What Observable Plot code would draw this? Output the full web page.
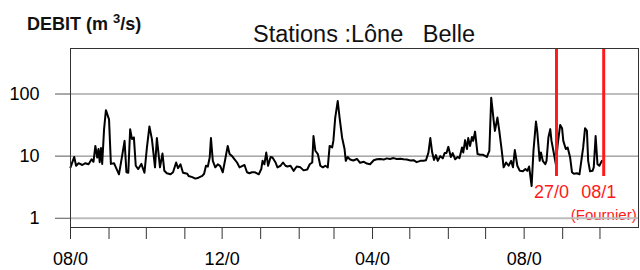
<!DOCTYPE html>
<html>
<head>
<meta charset="utf-8">
<script src="https://cdn.jsdelivr.net/npm/d3@7"></script>
<script src="https://cdn.jsdelivr.net/npm/@observablehq/plot@0.6"></script>
<style>
  html, body { margin: 0; padding: 0; background: white; }
</style>
</head>
<body>
<div id="chart"></div>
<script>
// Days since 1 Aug 2000 and discharge (m3/s)
const days = [0,3,4.5,6.5,9.5,12,14.5,17,18.5,20,21.5,22.5,23.5,24.5,25.5,27,28.5,31,32.5,35,36.5,39,41.5,43.5,45,46.5,48,49.5,51,52.5,54.5,57,59.5,61.5,63.5,65.5,68,69.5,72,74,75.5,77.5,80.5,82.5,85,86.5,88.5,90.5,94,95,98,100.5,103,106,107.5,109,110.5,112,113,114.5,116.5,118.5,120.5,122.5,124.5,126.5,128,130,132,134,136,138,140,142,144,146,148.5,151.5,153.5,154.5,156,157.5,159,161,162.5,165,166.5,169,171,173,174.5,177,179.5,182,185,187.5,190.5,192.5,194.5,195.5,197,199,201,203,205,207,208.5,210.5,211.5,213,215,216.5,218.5,220.5,221.5,223,225,227.5,230.5,233,236,238.5,241,244,246.5,249,252,254.5,257,260,262.5,265.5,268,270.5,273.5,276,278.5,281.5,284,286,288,289.5,291,292.5,294,295.5,297.5,299.5,301,302.5,304,306,307.5,309.5,311.5,313,315,316,317.5,319,320,321.5,323,324,325.5,327.5,329.5,332,335,337,338.5,340.5,341.5,343.5,345,347,348.5,350.5,352.5,354.5,356,357.5,359.5,361.5,364,366,367.5,369,371,372.5,374.5,375.5,377.5,378.5,380,382,383,384.5,386,387,388.5,390.5,392,394,395.5,396.5,398.5,400,402,403.5,405,407.5,409.5,411,412.5,414,415.5,416.5,418,420,421,422.5,424,425.5,427.5];
const flows = [6.6,9.7,7,7.7,7.2,7.7,7.4,8.9,8.1,14.6,9.5,13,8,13.5,7.5,27,55,39,7.5,7.7,6.6,5.1,10,17.6,5.5,5.4,27,18.8,20,7,6.2,7.5,5.4,13.8,30,18.8,6.6,19.5,6.6,11,5.8,5.3,5.1,5.5,7.9,6.4,7.4,5.4,5.2,4.8,4.6,4.35,4.5,4.8,5.2,7,6.8,9.5,19.5,8.4,6.6,7.4,6.9,5.5,8.9,14.6,10.8,10,8.9,7.9,6.6,6.9,7.2,5.5,5.3,5.5,5.5,5.1,6.2,8.4,7.4,11.4,7.0,9.7,9.5,7.9,6.6,7.0,7.9,7.0,6.8,7.0,5.8,6.8,6.6,5.9,6.1,7.4,7.9,21,12.2,10.8,7.0,6.6,7.0,6.6,14.6,13.8,17.6,41.7,77,41.7,20,13,8.4,9.7,8.8,8.5,9.0,7.8,8.1,7.6,7.4,8.6,8.9,9.0,8.8,9.2,9.0,9.3,9.0,9.1,8.9,8.8,8.5,8.6,8.0,8.4,8.4,8.6,11.4,19.5,11.4,8.7,10.4,8.4,10,9.2,11.2,11.2,14.1,9.7,11.2,8.9,9.7,9.3,13.8,11.4,18.1,13,19.5,14.6,20.4,17.6,24.8,10.8,10.5,10.5,9.7,12.2,87,36.9,25.5,41.7,25.5,12.2,6.6,7.9,7.0,8.4,6.6,12.5,7,5.8,5.7,6.2,5.8,6.8,3.3,12.2,36,25.5,8.4,11.4,8.4,7.4,8.4,19.9,27.2,17.6,12.2,7.4,15.6,31.8,28.2,17.6,13,13.8,9.5,5.5,5.2,5.3,5.1,8.4,13.8,28.2,25.5,8.4,5.7,5.8,6.6,21,7.4,7,8.4];

const yTicks = [1, 10, 100];
const xLabelDates = ["2000-08-01", "2000-12-01", "2001-04-01", "2001-08-01"];
const xLabels = ["08/0", "12/0", "04/0", "08/0"];
const eventDates = ["2001-08-27", "2001-10-04"];
const eventLabels = ["27/0", "08/1"];
const eventNote = "(Fournier)";
const title = "Stations :Lône   Belle";

const start = Date.UTC(2000, 7, 1);
const data = days.map((d, i) => ({date: new Date(start + d * 864e5), q: flows[i]}));
const monthTicks = d3.utcMonth.range(new Date(start), new Date(Date.UTC(2001, 10, 1)));
const labelMap = new Map(xLabelDates.map((d, i) => [+new Date(d), xLabels[i]]));
const events = eventDates.map((d, i) => ({date: new Date(d), label: eventLabels[i]}));

const svg = Plot.plot({
  width: 640,
  height: 270,
  marginLeft: 70,
  marginRight: 2,
  marginTop: 48,
  marginBottom: 43,
  style: {fontFamily: "Liberation Sans, Arial, sans-serif", fontSize: "18px", background: "white", overflow: "visible"},
  x: {type: "utc", domain: [new Date(start), new Date(Date.UTC(2001, 10, 1))]},
  y: {type: "log", domain: [0.71, 540]},
  marks: [
    Plot.text([events[1]], {x: "date", text: () => eventNote, frameAnchor: "bottom", dy: -8, lineAnchor: "bottom", fill: "#ff1a1a", fontSize: 15}),
    Plot.ruleY([100, 1], {stroke: "#bdbdbd", strokeWidth: 2}),
    Plot.ruleY([10], {stroke: "#777", strokeWidth: 1}),
    Plot.axisY({ticks: yTicks, tickFormat: d => String(d), tickSize: 15, tickPadding: 16, stroke: "#555", fill: "black", fontSize: 18, label: null}),
    Plot.axisX({ticks: monthTicks, tickSize: 12, tickFormat: () => "", stroke: "#333", label: null}),
    Plot.axisX({ticks: xLabelDates.map(d => new Date(d)), tickSize: 0, tickPadding: 25, tickFormat: d => labelMap.get(+d), fill: "black", fontSize: 18, label: null}),
    Plot.line(data, {x: "date", y: "q", stroke: "black", strokeWidth: 2, strokeLinejoin: "round"}),
    Plot.ruleX(events, {x: "date", y1: 540, y2: 4.7, stroke: "#ff1a1a", strokeWidth: 3}),
    Plot.text(events, {x: "date", text: "label", frameAnchor: "bottom", dy: -30, dx: -5, lineAnchor: "bottom", fill: "#ff1a1a", fontSize: 18}),
    Plot.frame({stroke: "#333"})
  ]
});

const s = d3.select(svg);
s.append("text")
  .attr("x", 253).attr("y", 42)
  .attr("text-anchor", "start")
  .attr("font-size", 23.5)
  .attr("fill", "#111")
  .style("white-space", "pre")
  .text(title);
const lab = s.append("text")
  .attr("x", 27).attr("y", 30)
  .attr("text-anchor", "start")
  .attr("font-size", 18)
  .attr("font-weight", "bold")
  .attr("fill", "#111")
  .style("white-space", "pre");
lab.append("tspan").text("DEBIT (m ");
lab.append("tspan").attr("font-size", 13).attr("dy", -7).text("3");
lab.append("tspan").attr("dy", 7).text("/s)");

document.getElementById("chart").appendChild(svg);
</script>
</body>
</html>
